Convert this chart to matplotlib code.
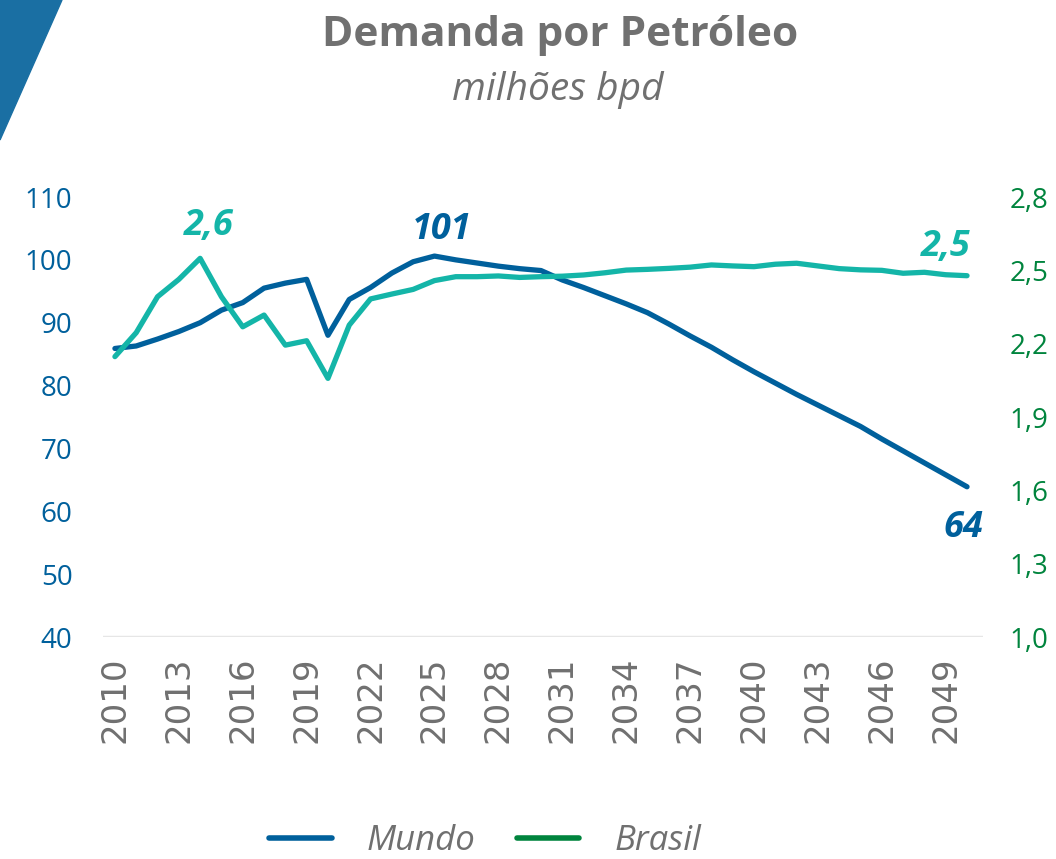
import matplotlib
matplotlib.use("Agg")
import matplotlib.pyplot as plt
from matplotlib import font_manager
from matplotlib.lines import Line2D
from matplotlib.patches import Polygon

years = list(range(2010, 2051))
mundo = [85.9, 86.3, 87.4, 88.6, 90.0, 92.0, 93.2, 95.5, 96.3, 96.9,
         88.0, 93.7, 95.6, 97.9, 99.7, 100.6, 100.0, 99.5, 99.0, 98.6,
         98.3, 96.8, 95.6, 94.3, 93.0, 91.6, 89.8, 87.9, 86.1, 84.1,
         82.2, 80.4, 78.6, 76.9, 75.2, 73.5, 71.5, 69.6, 67.7, 65.8,
         63.9]
brasil = [2.147, 2.245, 2.392, 2.463, 2.549, 2.392, 2.269, 2.317, 2.194, 2.212,
          2.058, 2.276, 2.383, 2.403, 2.422, 2.458, 2.474, 2.474, 2.477, 2.471,
          2.474, 2.476, 2.481, 2.490, 2.501, 2.504, 2.508, 2.513, 2.522, 2.518,
          2.515, 2.525, 2.529, 2.518, 2.507, 2.502, 2.500, 2.488, 2.492, 2.482,
          2.478]
left_ticks = [40, 50, 60, 70, 80, 90, 100, 110]
right_ticks = [1.0, 1.3, 1.6, 1.9, 2.2, 2.5, 2.8]
right_labels = ["1,0", "1,3", "1,6", "1,9", "2,2", "2,5", "2,8"]
x_ticks = list(range(2010, 2050, 3))
title = "Demanda por Petróleo"
subtitle = "milhões bpd"
series_names = ["Mundo", "Brasil"]

BLUE = "#00609c"
TEAL = "#14b5a8"
GREEN = "#00843d"
GREY = "#707070"

names = {f.name for f in font_manager.fontManager.ttflist}
TXT = "Open Sans" if "Open Sans" in names else "DejaVu Sans"
NUM = TXT

fig = plt.figure(figsize=(10.56, 8.59), dpi=100)
ax = fig.add_axes([103/1056, 1-637/859, (983-103)/1056, (637-197)/859])
ax2 = ax.twinx()

ax.plot(years, mundo, color=BLUE, lw=3.8, solid_capstyle="round", zorder=3)
ax2.plot(years, brasil, color=TEAL, lw=3.8, solid_capstyle="round", zorder=3)

ax.set_xlim(2009.44, 2050.75)
ax.set_ylim(40, 110)
ax2.set_ylim(1.0, 2.8)

ax.set_yticks(left_ticks)
ax.set_yticklabels([str(t) for t in left_ticks], fontsize=20, color=BLUE, family=NUM)
ax2.set_yticks(right_ticks)
ax2.set_yticklabels(right_labels, fontsize=20, color=GREEN, family=NUM)
ax.set_xticks(x_ticks)
ax.set_xticklabels([str(t) for t in x_ticks], rotation=90, fontsize=24.5,
                   color=GREY, family="DejaVu Sans")

for a in (ax, ax2):
    for s in a.spines.values():
        s.set_visible(False)
    a.tick_params(length=0)
ax.tick_params(axis="y", pad=22)
ax2.tick_params(axis="y", pad=19)
ax.tick_params(axis="x", pad=14)
ax.axhline(40, color="#e6e6e6", lw=2.5, zorder=1)

# data labels
lab = dict(fontsize=26, fontweight="bold", style="italic", family=TXT)
ax2.annotate("2,6", (2014, brasil[4]), xytext=(6, 10), textcoords="offset points",
             ha="center", va="bottom", color=TEAL, **lab)
ax.annotate("101", (2025, mundo[15]), xytext=(5, 6), textcoords="offset points",
            ha="center", va="bottom", color=BLUE, **lab)
ax2.annotate("2,5", (2050, brasil[-1]), xytext=(-15, 8), textcoords="offset points",
             ha="center", va="bottom", color=TEAL, **lab)
ax.annotate("64", (2050, mundo[-1]), xytext=(-3, -17), textcoords="offset points",
            ha="center", va="top", color=BLUE, **lab)

fig.text(560/1056, 1-35/859, title, ha="center", va="center", fontsize=30.5,
         fontweight="bold", color=GREY, family=TXT)
fig.text(558/1056, 1-90/859, subtitle, ha="center", va="center", fontsize=28,
         style="italic", color=GREY, family=TXT)

# decorative corner triangle
fig.patches.append(Polygon([[0, 1], [62/1056, 1], [0, 1-140/859]], closed=True,
                           transform=fig.transFigure, color="#1a6fa3", zorder=0))

handles = [Line2D([], [], color=BLUE, lw=4, solid_capstyle="round"),
           Line2D([], [], color=GREEN, lw=4, solid_capstyle="round")]
leg = fig.legend(handles, series_names, loc="center", bbox_to_anchor=(485/1056, 1-841/859),
                 ncol=2, frameon=False, handlelength=1.8, handletextpad=1.0,
                 columnspacing=1.2, prop={"family": TXT, "style": "italic", "size": 25})
for t in leg.get_texts():
    t.set_color(GREY)

fig.savefig("out.png", dpi=100)
